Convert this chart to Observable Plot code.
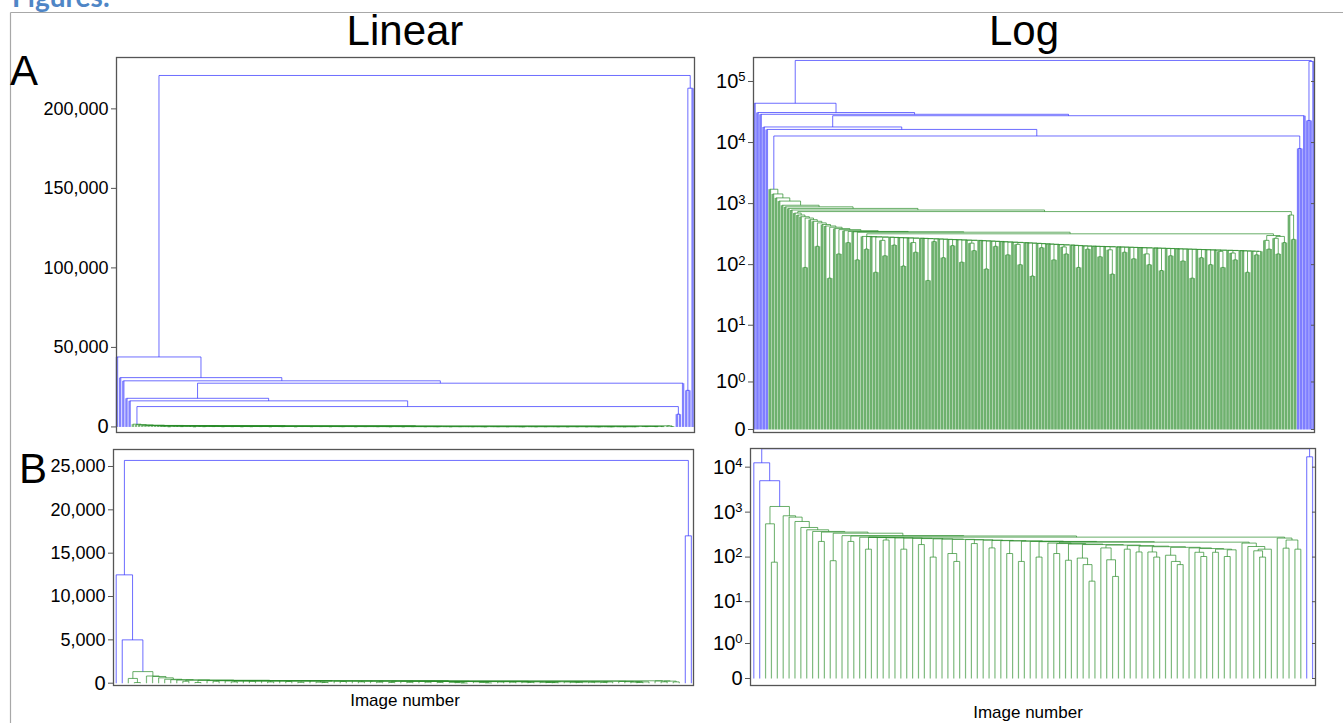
<!DOCTYPE html>
<html><head><meta charset="utf-8">
<script src="https://cdn.jsdelivr.net/npm/d3@7"></script>
<script src="https://cdn.jsdelivr.net/npm/@observablehq/plot@0.6"></script>
<style>
html,body{margin:0;padding:0;background:#fff;}
#page{position:relative;width:1343px;height:723px;overflow:hidden;font-family:"Liberation Sans",Arial,sans-serif;}
.panel{position:absolute;}
#deco{position:absolute;left:0;top:0;}
</style></head>
<body><div id="page">
<svg id="deco" width="1343" height="723" font-family="Liberation Sans, Arial, sans-serif">
  <line x1="10.5" y1="12.5" x2="1343" y2="12.5" stroke="#a8a8a8" stroke-width="1.2"/>
  <line x1="10.5" y1="12.5" x2="10.5" y2="723" stroke="#a8a8a8" stroke-width="1.2"/>
  <text x="12" y="7" font-family="Lato, 'Open Sans', sans-serif" font-weight="bold" font-size="28" fill="#4f86c6">Figures:</text>
  <text x="405" y="45" text-anchor="middle" font-size="42">Linear</text>
  <text x="1024" y="45" text-anchor="middle" font-size="42">Log</text>
  <text x="10" y="85" font-size="42">A</text>
  <text x="19" y="483" font-size="42">B</text>
  <text x="405" y="706" text-anchor="middle" font-size="17">Image number</text>
  <text x="1028" y="718" text-anchor="middle" font-size="17">Image number</text>
</svg>
<div id="aLin" class="panel" style="left:0;top:50px"></div>
<div id="aLog" class="panel" style="left:700px;top:50px"></div>
<div id="bLin" class="panel" style="left:0;top:440px"></div>
<div id="bLog" class="panel" style="left:700px;top:440px"></div>
</div>
<script>
// ---------- DATA (merge heights between neighbouring images, left to right) ----------
// Panel A
const aLeftGaps = [44000, 31000, 29000, 18000, 16400];
const aGreenStairGaps = [1720, 1440, 1240, 1100, 940, 886, 834, 785, 700, 650, 610, 90, 580, 545, 513, 200, 483, 455, 430, 60, 410, 390, 150, 375, 360, 230, 350, 345, 120, 340];
const aGreenMidGaps = [
  290, 180, 288, 286, 75, 284, 250, 140, 282, 280,
  210, 278, 276, 95, 275, 273, 230, 160, 271, 270,
  268, 55, 266, 240, 264, 262, 130, 260, 258, 205,
  257, 255, 110, 253, 251, 225, 170, 250, 248, 246,
  85, 244, 242, 200, 240, 238, 236, 145, 234, 232,
  215, 100, 230, 228, 226, 65, 224, 222, 190, 220,
  218, 216, 120, 214, 212, 195, 150, 210, 208, 206,
  90, 204, 202, 180, 201, 200, 199, 135, 198, 197,
  175, 70, 196, 195, 194, 160, 193, 192, 125, 191,
  190, 189, 150, 100, 188, 187, 186, 80, 185, 184,
  140, 183, 182, 181, 115, 180, 179, 60, 178, 177,
  130, 176, 175, 100, 174, 173, 165, 90, 172, 171,
  155, 120, 170, 169, 168, 75, 167, 166, 145, 165];
const aGreenRightGaps = [320, 250, 180, 300, 270, 150, 290, 230, 740, 650, 260];
const aRightGaps = [12800, 8000, 27500, 221000, 23000, 213000];
// Panel B
const bLeftGaps = [12500, 5000];
const bGreenStairGaps = [550, 77, 1336, 830, 775, 620, 456, 405, 372, 223, 360, 83, 340, 300, 223, 295];
const bGreenRestGaps = [
  276, 150, 274, 272, 240, 270, 268, 150, 265, 262, 190, 258, 100, 255, 252, 120,
  80, 248, 245, 200, 242, 238, 160, 235, 232, 120, 229, 80, 226, 223, 100, 220,
  205, 120, 200, 85, 195, 95, 68, 29, 190, 160, 87, 37, 185, 150, 180, 130,
  175, 130, 100, 170, 110, 80, 68, 165, 160, 128, 103, 155, 128, 150, 103, 145,
  215, 205, 172, 138, 100, 150, 278, 265, 158, 240, 150];
const bRightGaps = [25700, 17000];
// Axes
const linATicks = [0, 50000, 100000, 150000, 200000];
const linBTicks = [0, 5000, 10000, 15000, 20000, 25000];
const logATicks = [0, 1, 10, 100, 1000, 10000, 100000];
const logBTicks = [0, 1, 10, 100, 1000, 10000];

// ---------- dendrogram layout from ordered merge heights ----------
function dendro(gaps) {
  const n = gaps.length + 1, segs = [];
  function build(lo, hi) {
    if (lo === hi) return {x: lo, h: 0, leaf: true};
    let k = lo;
    for (let i = lo + 1; i < hi; i++) if (gaps[i] > gaps[k]) k = i;
    const L = build(lo, k), R = build(k + 1, hi), h = gaps[k];
    const c = h >= 2000 ? "blue" : "green";
    segs.push({x1: L.x, y1: h, x2: R.x, y2: h, c, leaf: false});
    segs.push({x1: L.x, y1: L.h, x2: L.x, y2: h, c, leaf: L.leaf});
    segs.push({x1: R.x, y1: R.h, x2: R.x, y2: h, c, leaf: R.leaf});
    return {x: (L.x + R.x) / 2, h, leaf: false};
  }
  build(0, n - 1);
  return {segs, n};
}
const treeA = dendro([...aLeftGaps, ...aGreenStairGaps, ...aGreenMidGaps, ...aGreenRightGaps, ...aRightGaps]);
const treeB = dendro([...bLeftGaps, ...bGreenStairGaps, ...bGreenRestGaps, ...bRightGaps]);

const BLUE = "#2f2fff", GREEN = "#2a8c2a";
function linkMarks(segs, leafW, greenOp, blueOp) {
  const mk = (c, leaf, col, op, w) => Plot.link(segs.filter(s => s.c === c && s.leaf === leaf),
    {x1: "x1", y1: "y1", x2: "x2", y2: "y2", stroke: col, strokeOpacity: op, strokeWidth: w});
  return [
    mk("green", true, GREEN, greenOp, leafW),
    mk("green", false, GREEN, 0.7, 1),
    mk("blue", true, BLUE, blueOp, leafW),
    mk("blue", false, BLUE, 0.7, 1)
  ];
}
const fmtComma = d3.format(",");
const logFmt = d => d === 0 ? "0" : "10^" + Math.round(Math.log10(d));

function panel(opts) {
  const {tree, width, height, ml, mr, mt, mb, xpad, yType, yDomain, ticks, fmt, leafW, greenOp, blueOp, constant, rightTicks} = opts;
  const marks = [
    ...linkMarks(tree.segs, leafW, greenOp, blueOp),
    Plot.frame({stroke: "#555", strokeWidth: 1.3}),
    Plot.axisY(ticks, {anchor: "left", tickSize: 5, tickPadding: 3, tickFormat: fmt, fontSize: 18, label: null, stroke: "#555"})
  ];
  if (rightTicks) marks.push(Plot.axisY(ticks, {anchor: "right", tickSize: -4, tickFormat: () => "", label: null, stroke: "#555"}));
  const y = {type: yType, domain: yDomain};
  if (constant) y.constant = constant;
  const svg = Plot.plot({
    width, height, marginLeft: ml, marginRight: mr, marginTop: mt, marginBottom: mb,
    x: {domain: [-xpad[0], tree.n - 1 + xpad[1]], axis: null},
    y,
    style: {fontFamily: "Liberation Sans, Arial, sans-serif", fontSize: "18px", color: "black", background: "transparent", overflow: "visible"},
    marks
  });
  svg.querySelectorAll("text").forEach(t => {
    const m = /^10\^(\d)$/.exec(t.textContent);
    if (m) {
      t.textContent = "";
      t.setAttribute("font-size", "20px");
      const ns = "http://www.w3.org/2000/svg";
      const a = document.createElementNS(ns, "tspan"); a.textContent = "10";
      const b = document.createElementNS(ns, "tspan"); b.textContent = m[1];
      b.setAttribute("dy", "-0.5em"); b.setAttribute("font-size", "13px");
      t.appendChild(a); t.appendChild(b);
    } else if (t.textContent === "0") {
      t.setAttribute("font-size", "20px");
    }
  });
  return svg;
}

document.getElementById("aLin").appendChild(panel({
  tree: treeA, width: 700, height: 390, ml: 116, mr: 6, mt: 7, mb: 8, xpad: [0.15, 0.6],
  yType: "linear", yDomain: [-3500, 232300], ticks: linATicks, fmt: fmtComma, leafW: 2.4, greenOp: 0.6, blueOp: 0.6
}));
document.getElementById("aLog").appendChild(panel({
  tree: treeA, width: 643, height: 390, ml: 53, mr: 29, mt: 7, mb: 8, xpad: [0.3, 0.3],
  yType: "symlog", constant: 0.2, yDomain: [-0.024, 247000], ticks: logATicks, fmt: logFmt, leafW: 2.7, greenOp: 0.68, blueOp: 0.62, rightTicks: true
}));
document.getElementById("bLin").appendChild(panel({
  tree: treeB, width: 700, height: 260, ml: 113, mr: 7, mt: 9, mb: 15, xpad: [0.45, 0.35],
  yType: "linear", yDomain: [-265, 26960], ticks: linBTicks, fmt: fmtComma, leafW: 1.2, greenOp: 0.6, blueOp: 0.6
}));
document.getElementById("bLog").appendChild(panel({
  tree: treeB, width: 643, height: 260, ml: 50, mr: 28, mt: 8, mb: 15, xpad: [0.56, 0.5],
  yType: "symlog", constant: 0.2, yDomain: [-0.086, 26000], ticks: logBTicks, fmt: logFmt, leafW: 1.2, greenOp: 0.6, blueOp: 0.6, rightTicks: true
}));
</script>
</body></html>
